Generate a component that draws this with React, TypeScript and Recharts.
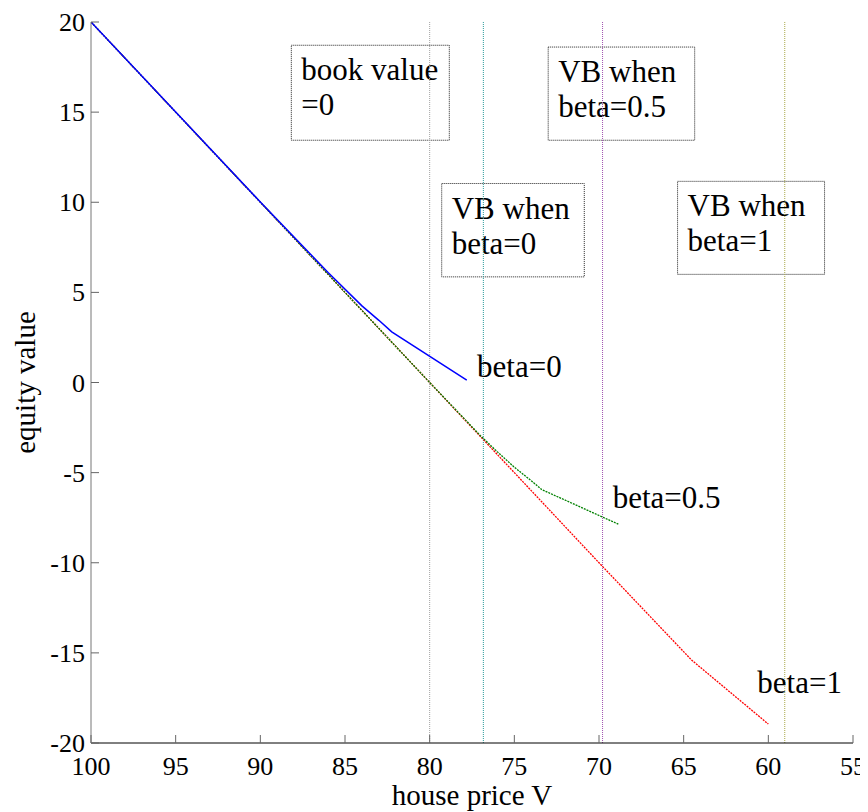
import React from 'react';
import { LineChart, Line, XAxis, YAxis, ReferenceLine, ReferenceArea, ReferenceDot } from 'recharts';

const FONT = '"Liberation Serif", "Times New Roman", serif';

const xTicks = [100, 95, 90, 85, 80, 75, 70, 65, 60, 55];
const yTicks = [20, 15, 10, 5, 0, -5, -10, -15, -20];

const beta0V = [100, 90, 86, 84, 83, 82.24, 77.81];
const beta0E = [20, 10.02, 6.1, 4.25, 3.45, 2.81, 0.13];

const beta05V = [100, 90, 80, 77, 76, 75, 74, 73.38, 68.86];
const beta05E = [20, 10, 0, -2.95, -3.85, -4.7, -5.45, -5.94, -7.86];

const beta1V = [100, 80, 70, 64.53, 60];
const beta1E = [20, 0, -10, -15.4, -18.95];

const vLines = [
  { v: 80, color: '#a0a0a0' },
  { v: 76.83, color: '#2a9a9a' },
  { v: 69.79, color: '#a050b0' },
  { v: 59.03, color: '#a8a848' },
];

const boxes = [
  { lines: ['book value', '=0'], x1: 88.17, x2: 78.84, y1: 18.71, y2: 13.44 },
  { lines: ['VB when', 'beta=0.5'], x1: 73.0, x2: 64.35, y1: 18.61, y2: 13.44 },
  { lines: ['VB when', 'beta=0'], x1: 79.29, x2: 70.87, y1: 11.04, y2: 5.86 },
  { lines: ['VB when', 'beta=1'], x1: 65.36, x2: 56.68, y1: 11.16, y2: 6.0 },
];

const seriesLabels = [
  { text: 'beta=0', v: 77.2, e: 0.29 },
  { text: 'beta=0.5', v: 69.19, e: -6.99 },
  { text: 'beta=1', v: 60.65, e: -17.25 },
];

const toRows = (vs: number[], es: number[]) => vs.map((v, i) => ({ v, e: es[i] }));

const XTick = (props: any) => {
  const { x, y, payload } = props;
  return (
    <g>
      <line x1={x} y1={y} x2={x} y2={y - 8} stroke="#666" strokeWidth={1} />
      <text x={x} y={y + 32} textAnchor="middle" fontFamily={FONT} fontSize={26} fill="#000">
        {payload.value}
      </text>
    </g>
  );
};

const YTick = (props: any) => {
  const { x, y, payload } = props;
  return (
    <g>
      <line x1={x} y1={y} x2={x + 8} y2={y} stroke="#666" strokeWidth={1} />
      <text x={x - 6} y={y + 9} textAnchor="end" fontFamily={FONT} fontSize={26} fill="#000">
        {payload.value}
      </text>
    </g>
  );
};

const BoxShape = (lines: string[]) => (props: any) => {
  const { x, y, width, height } = props;
  return (
    <g>
      <rect x={x} y={y} width={width} height={height} fill="none" stroke="#222" strokeWidth={1} strokeDasharray="1 1" />
      {lines.map((t, i) => (
        <text key={i} x={x + 10} y={y + 35 + i * 35} fontFamily={FONT} fontSize={31} fill="#000">
          {t}
        </text>
      ))}
    </g>
  );
};

export default function App() {
  return (
    <div style={{ width: 860, height: 804, background: '#fff' }}>
      <LineChart width={860} height={804} margin={{ top: 14, right: 15, left: 0, bottom: 0 }} style={{ overflow: 'visible' }}>
        <XAxis
          type="number"
          dataKey="v"
          domain={[55, 100]}
          reversed
          ticks={xTicks}
          interval={0}
          height={69}
          tickSize={0}
          tickMargin={0}
          tick={<XTick />}
          axisLine={{ stroke: '#000', strokeWidth: 1 }}
          tickLine={false}
          allowDataOverflow
          label={{
            value: 'house price V',
            content: (p: any) => {
              const vb = p.viewBox;
              return (
                <text x={vb.x + vb.width / 2} y={797} textAnchor="middle" fontFamily={FONT} fontSize={29} fill="#000">
                  house price V
                </text>
              );
            },
          }}
        />
        <YAxis
          type="number"
          domain={[-20, 20]}
          ticks={yTicks}
          interval={0}
          width={83}
          tickSize={0}
          tickMargin={0}
          tick={<YTick />}
          axisLine={{ stroke: '#777', strokeWidth: 1 }}
          tickLine={false}
          allowDataOverflow
          label={{
            value: 'equity value',
            content: (p: any) => {
              const vb = p.viewBox;
              const cy = vb.y + vb.height / 2;
              return (
                <text
                  x={27}
                  y={cy}
                  transform={`rotate(-90 27 ${cy})`}
                  textAnchor="middle"
                  fontFamily={FONT}
                  fontSize={29}
                  fill="#000"
                >
                  equity value
                </text>
              );
            },
          }}
        />
        {vLines.map((l) => (
          <ReferenceLine key={l.v} x={l.v} stroke={l.color} strokeWidth={1} strokeDasharray="1 1" />
        ))}
        {boxes.map((b, i) => (
          <ReferenceArea key={i} x1={b.x1} x2={b.x2} y1={b.y1} y2={b.y2} shape={BoxShape(b.lines)} />
        ))}
        <Line
          data={toRows(beta1V, beta1E)}
          dataKey="e"
          stroke="#ff0000"
          strokeWidth={1.3}
          strokeDasharray="2 1"
          dot={false}
          isAnimationActive={false}
          type="linear"
        />
        <Line
          data={toRows(beta05V, beta05E)}
          dataKey="e"
          stroke="#008000"
          strokeWidth={1.3}
          strokeDasharray="2 1"
          dot={false}
          isAnimationActive={false}
          type="linear"
        />
        <Line
          data={toRows(beta0V, beta0E)}
          dataKey="e"
          stroke="#0000ff"
          strokeWidth={1.5}
          dot={false}
          isAnimationActive={false}
          type="linear"
        />
        {seriesLabels.map((s) => (
          <ReferenceDot
            key={s.text}
            x={s.v}
            y={s.e}
            r={0}
            shape={(p: any) => (
              <text x={p.cx} y={p.cy} fontFamily={FONT} fontSize={31} fill="#000">
                {s.text}
              </text>
            )}
          />
        ))}
      </LineChart>
    </div>
  );
}
